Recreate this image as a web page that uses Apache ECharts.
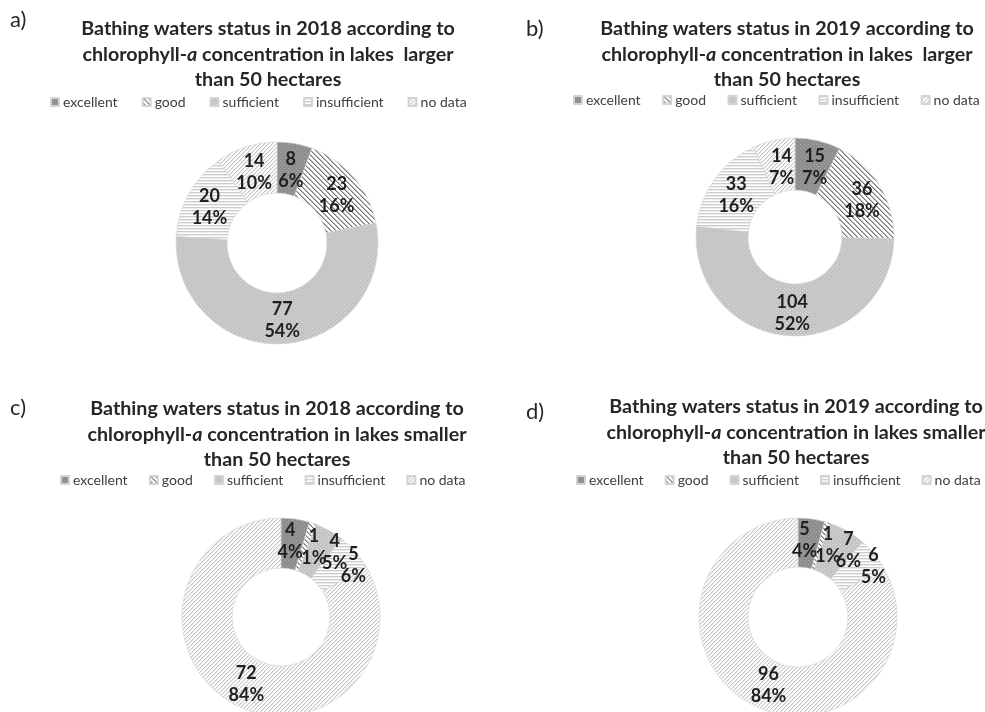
<!DOCTYPE html>
<html>
<head>
<meta charset="utf-8">
<script src="https://cdn.jsdelivr.net/npm/echarts@6/dist/echarts.min.js"></script>
<style>
  html, body { margin: 0; padding: 0; background: #ffffff; }
  #chart { width: 985px; height: 712px; }
</style>
</head>
<body>
<div id="chart"></div>
<script>
// Status classes and counts of bathing waters per panel
const categories = ['excellent', 'good', 'sufficient', 'insufficient', 'no data'];
const large2018 = [8, 23, 77, 20, 14];
const large2019 = [15, 36, 104, 33, 14];
const small2018 = [4, 1, 4, 5, 72];
const small2019 = [5, 1, 7, 6, 96];

// Percent labels as printed on each ring
const pctLarge2018 = ['6%', '16%', '54%', '14%', '10%'];
const pctLarge2019 = ['7%', '18%', '52%', '16%', '7%'];
const pctSmall2018 = ['4%', '1%', '5%', '6%', '84%'];
const pctSmall2019 = ['4%', '1%', '6%', '5%', '84%'];

// Panel captions
const panelLetters = ['a)', 'b)', 'c)', 'd)'];
const titleYears = ['2018', '2019', '2018', '2019'];
const titleSizes = [' larger', ' larger', 'smaller', 'smaller'];

const panelValues = [large2018, large2019, small2018, small2019];
const panelPcts = [pctLarge2018, pctLarge2019, pctSmall2018, pctSmall2019];

// ---- layout ----
const FONT = 'Lato, "Open Sans", sans-serif';
const panels = [
  { center: [277, 243], radius: [50, 101], titleX: 268, titleY: 16, legendX: 50, legendY: 95, legendGap: 24, letter: [10, 9] },
  { center: [795, 237], radius: [47, 99], titleX: 787, titleY: 16, legendX: 573, legendY: 93, legendGap: 21.5, letter: [526, 18] },
  { center: [281, 617], radius: [49, 99], titleX: 277, titleY: 396, legendX: 60, legendY: 473, legendGap: 21.2, letter: [10, 397] },
  { center: [798, 617], radius: [50, 99], titleX: 796, titleY: 394, legendX: 576, legendY: 473, legendGap: 21, letter: [526, 401] }
];
// label nudges, per panel and class
const labelNudge = [
  [[0, 4], [0, 3], [0, -1], [1, 2], [1, 4]],
  [[2, 4], [2, 3], [2, 0], [3, 2], [3, 4]],
  [[-2, 0], [8, 3], [16, 2], [15, 0], [3, 0]],
  [[-4, 0], [7, 2], [12, 0], [16, -1], [9, 1]]
];

// ---- fill patterns ----
function makePattern(w, h, draw) {
  const c = document.createElement('canvas');
  c.width = w; c.height = h;
  const ctx = c.getContext('2d');
  draw(ctx);
  return { image: c, repeat: 'repeat' };
}
function px(ctx, x, y, col) { ctx.fillStyle = col; ctx.fillRect(x, y, 1, 1); }

const fills = [
  // excellent: dark grey with fine light dots
  makePattern(4, 4, ctx => {
    ctx.fillStyle = '#8e8e8e'; ctx.fillRect(0, 0, 4, 4);
    px(ctx, 0, 0, '#a6a6a6'); px(ctx, 2, 2, '#a6a6a6');
  }),
  // good: dark downward diagonals on white
  makePattern(5, 5, ctx => {
    ctx.fillStyle = '#ffffff'; ctx.fillRect(0, 0, 5, 5);
    for (let i = 0; i < 5; i++) { px(ctx, i, i, '#777777'); px(ctx, (i + 1) % 5, i, '#b4b4b4'); }
  }),
  // sufficient: light grey with white dots
  makePattern(4, 4, ctx => {
    ctx.fillStyle = '#c4c4c4'; ctx.fillRect(0, 0, 4, 4);
    px(ctx, 0, 0, '#dcdcdc'); px(ctx, 2, 2, '#dcdcdc');
  }),
  // insufficient: thin horizontal lines
  makePattern(4, 3, ctx => {
    ctx.fillStyle = '#ffffff'; ctx.fillRect(0, 0, 4, 3);
    ctx.fillStyle = '#cccccc'; ctx.fillRect(0, 0, 4, 1);
    ctx.fillStyle = '#ececec'; ctx.fillRect(0, 1, 4, 1);
  }),
  // no data: light upward diagonals
  makePattern(4, 4, ctx => {
    ctx.fillStyle = '#ffffff'; ctx.fillRect(0, 0, 4, 4);
    for (let i = 0; i < 4; i++) { px(ctx, 3 - i, i, '#c6c6c6'); px(ctx, (4 - i) % 4, i, '#e8e8e8'); }
  })
];

function titleText(i) {
  return '{b|Bathing waters status in ' + titleYears[i] + ' according to}\n' +
         '{b|chlorophyll-}{i|a}{b| concentration in lakes ' + titleSizes[i] + '}\n' +
         '{b|than 50 hectares}';
}

const titleRich = {
  b: { fontFamily: FONT, fontWeight: 'bold', fontSize: 19.7, color: '#262626', lineHeight: 25.5 },
  i: { fontFamily: FONT, fontWeight: 'bold', fontStyle: 'italic', fontSize: 19.7, color: '#262626', lineHeight: 25.5 }
};

const option = {
  animation: false,
  backgroundColor: '#ffffff',
  title: panels.map((p, i) => ({
    text: titleText(i),
    left: p.titleX,
    top: p.titleY,
    textAlign: 'center',
    padding: 0,
    textStyle: { rich: titleRich, align: 'center' }
  })),
  graphic: panels.map((p, i) => ({
    type: 'text',
    left: p.letter[0],
    top: p.letter[1],
    style: { text: panelLetters[i], font: '22px ' + FONT, fill: '#262626' }
  })),
  legend: panels.map(p => ({
    data: categories,
    left: p.legendX,
    top: p.legendY,
    orient: 'horizontal',
    icon: 'rect',
    itemWidth: 8,
    itemHeight: 8,
    itemGap: p.legendGap,
    padding: 0,
    selectedMode: false,
    textStyle: { fontFamily: FONT, fontSize: 14, color: '#404040', padding: [0, 0, 0, -1] }
  })),
  series: panels.map((p, i) => ({
    type: 'pie',
    center: p.center,
    radius: p.radius,
    startAngle: 90,
    clockwise: true,
    avoidLabelOverlap: false,
    silent: true,
    labelLayout: { hideOverlap: false },
    itemStyle: { borderColor: '#d4d4d4', borderWidth: 0.6 },
    label: {
      show: true,
      position: 'inside',
      fontFamily: FONT,
      fontWeight: 'bold',
      fontSize: 18,
      lineHeight: 22,
      color: '#1f1f1f',
      formatter: prm => prm.value + '\n' + panelPcts[i][prm.dataIndex]
    },
    labelLine: { show: false },
    emphasis: { disabled: true },
    data: categories.map((name, k) => ({
      name: name,
      value: panelValues[i][k],
      itemStyle: { color: fills[k] },
      label: { offset: labelNudge[i][k] }
    }))
  }))
};

const chart = echarts.init(document.getElementById('chart'), null, { renderer: 'canvas' });
chart.setOption(option);
</script>
</body>
</html>
